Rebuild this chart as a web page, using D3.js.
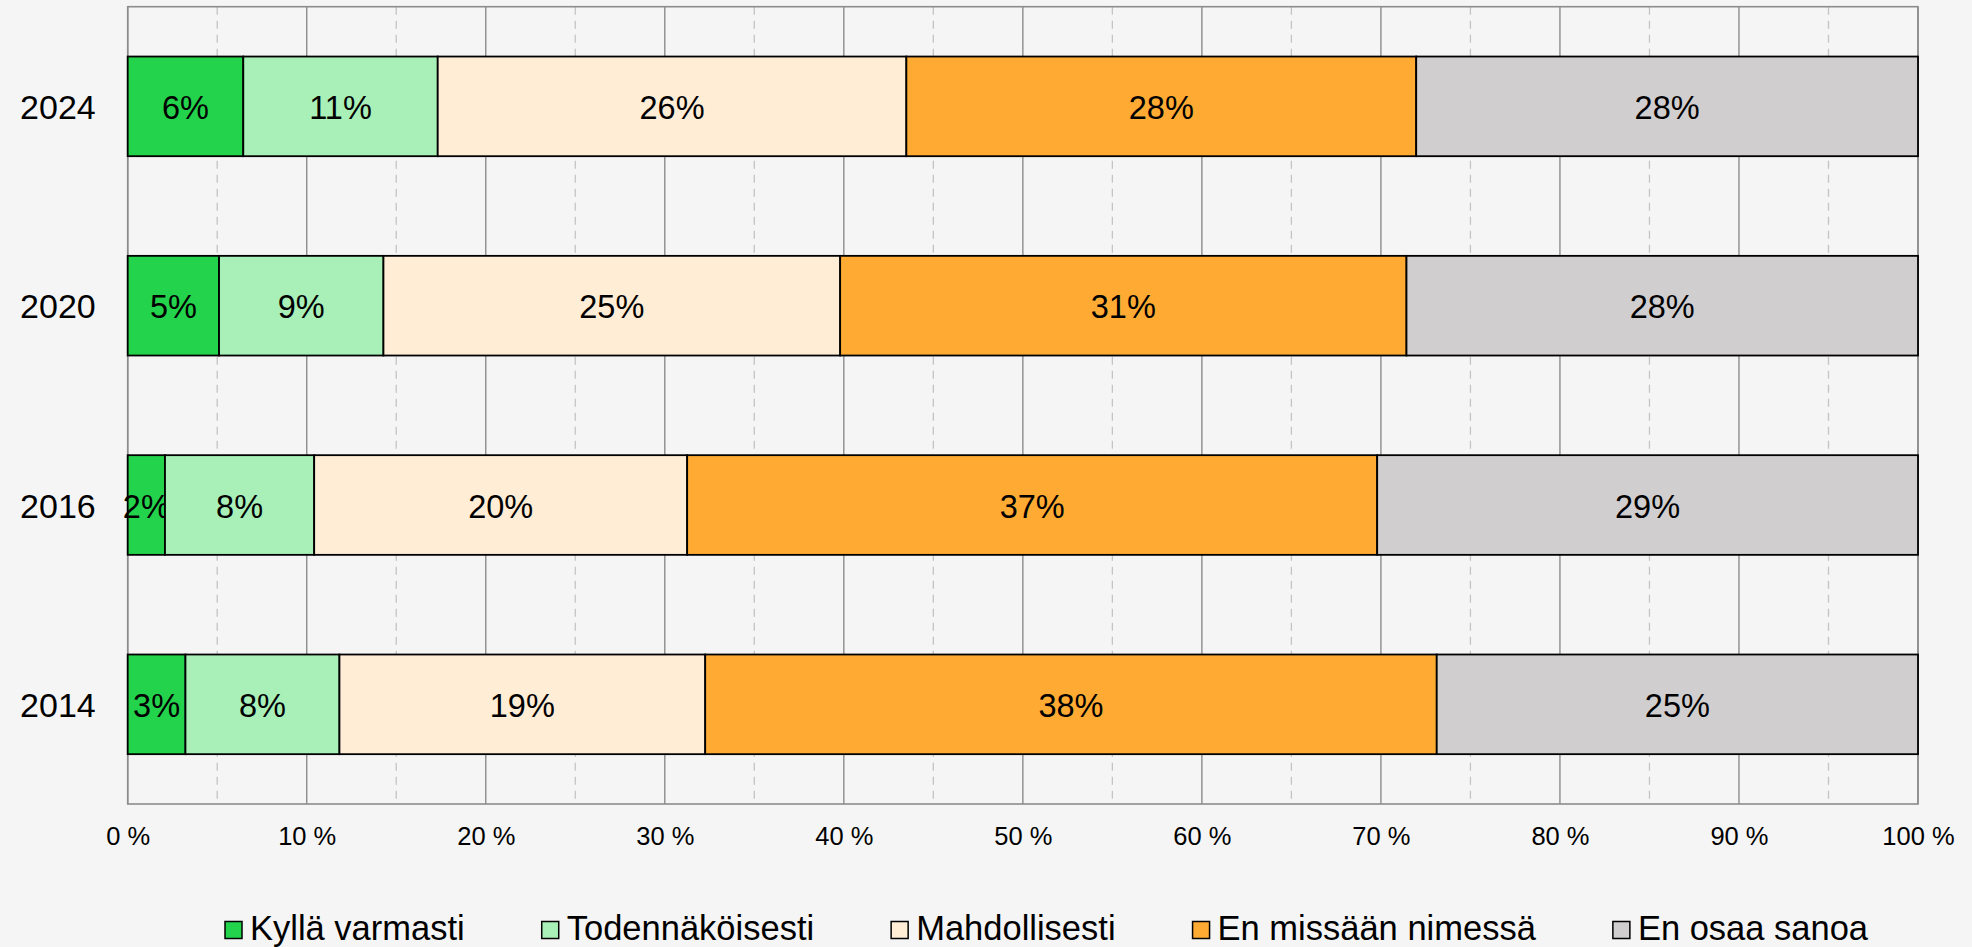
<!DOCTYPE html>
<html>
<head>
<meta charset="utf-8">
<style>
body { margin:0; background:#f5f5f5; }
svg { display:block; font-family:"Liberation Sans", Arial, sans-serif; }
</style>
</head>
<body>
<div id="chart"></div>
<script src="https://d3js.org/d3.v7.min.js"></script>
<script>

// data, raw percentages per year (chart normalises each row to 100 %)
var years = ["2024", "2020", "2016", "2014"];
var series = ["Kyllä varmasti", "Todennäköisesti", "Mahdollisesti", "En missään nimessä", "En osaa sanoa"];
var colors = ["#24d34c", "#a9f0b8", "#ffedd5", "#ffab33", "#d0cecf"];
var kyllaVarmasti   = [6.45, 5, 2, 3];
var todennakoisesti = [10.85, 9, 8, 8];
var mahdollisesti   = [26.15, 25, 20, 19];
var enMissaan       = [28.45, 31, 37, 38];
var enOsaa          = [28, 28, 29, 25];
var majorTicks = [0, 0.1, 0.2, 0.3, 0.4, 0.5, 0.6, 0.7, 0.8, 0.9, 1];
var minorTicks = [0.05, 0.15, 0.25, 0.35, 0.45, 0.55, 0.65, 0.75, 0.85, 0.95];

var W = 1972, H = 947;
var plotL = 127.7, plotR = 1918, plotT = 6.7, plotB = 804;

var cols = [kyllaVarmasti, todennakoisesti, mahdollisesti, enMissaan, enOsaa];
var rows = years.map(function(yr, i) {
  var r = { year: yr };
  series.forEach(function(s, j) { r[s] = cols[j][i]; });
  return r;
});

var stacked = d3.stack().keys(series).offset(d3.stackOffsetExpand)(rows);

var svg = d3.select("#chart").append("svg")
  .attr("width", W)
  .attr("height", H);

svg.append("rect").attr("width", W).attr("height", H).attr("fill", "#f5f5f5");

var x = d3.scaleLinear().domain([0, 1]).range([plotL, plotR]);
var y = d3.scaleBand().domain(years).range([plotT, plotB]).paddingInner(0.5).paddingOuter(0.25);

// minor dashed grid
svg.append("g").selectAll("line").data(minorTicks).enter().append("line")
  .attr("x1", function(d) { return x(d); })
  .attr("x2", function(d) { return x(d); })
  .attr("y1", plotT).attr("y2", plotB)
  .style("stroke", "#c4c4c4")
  .style("stroke-width", 1.3)
  .style("stroke-dasharray", "8,6");

// major grid
svg.append("g").selectAll("line").data(majorTicks).enter().append("line")
  .attr("x1", function(d) { return x(d); })
  .attr("x2", function(d) { return x(d); })
  .attr("y1", plotT).attr("y2", plotB)
  .style("stroke", "#8c8c8c")
  .style("stroke-width", 1.4);

// plot frame
svg.append("rect")
  .attr("x", plotL).attr("y", plotT)
  .attr("width", plotR - plotL).attr("height", plotB - plotT)
  .style("fill", "none")
  .style("stroke", "#8c8c8c")
  .style("stroke-width", 1.6);

// bars
var groups = svg.append("g").selectAll("g").data(stacked).enter().append("g")
  .attr("fill", function(d, i) { return colors[i]; });

groups.selectAll("rect").data(function(d) { return d; }).enter().append("rect")
  .attr("x", function(d) { return x(d[0]); })
  .attr("y", function(d) { return y(d.data.year); })
  .attr("width", function(d) { return x(d[1]) - x(d[0]); })
  .attr("height", y.bandwidth())
  .style("stroke", "#000")
  .style("stroke-width", 1.8);

// data labels
groups.each(function(s) {
  d3.select(this).selectAll("text").data(s).enter().append("text")
    .text(function(d) { return Math.round(d.data[s.key]) + "%"; })
    .attr("x", function(d) { return (x(d[0]) + x(d[1])) / 2; })
    .attr("y", function(d) { return y(d.data.year) + y.bandwidth() / 2; })
    .attr("dy", "0.39em")
    .style("fill", "#000")
    .style("font-size", "32.5px")
    .style("text-anchor", "middle");
});

// x axis labels
var xAxis = svg.append("g")
  .attr("transform", "translate(0," + plotB + ")")
  .call(d3.axisBottom(x).tickValues(majorTicks).tickSize(0).tickPadding(23)
    .tickFormat(function(d) { return Math.round(d * 100) + " %"; }));
xAxis.select(".domain").remove();
xAxis.selectAll("text").style("font-size", "25.5px").style("fill", "#000")
  .style("font-family", "\"Liberation Sans\", Arial, sans-serif");

// y axis labels
var yAxis = svg.append("g")
  .attr("transform", "translate(" + plotL + ",0)")
  .call(d3.axisLeft(y).tickSize(0).tickPadding(32));
yAxis.select(".domain").remove();
yAxis.selectAll("text").style("font-size", "34px").style("fill", "#000")
  .attr("dy", "0.37em")
  .style("font-family", "\"Liberation Sans\", Arial, sans-serif");

// legend
var legend = svg.append("g");
var lx = 225;
series.forEach(function(s, i) {
  legend.append("rect")
    .attr("x", lx).attr("y", 921.5)
    .attr("width", 17).attr("height", 17)
    .style("fill", colors[i])
    .style("stroke", "#000")
    .style("stroke-width", 1.5);
  var t = legend.append("text")
    .text(s)
    .attr("x", lx + 25)
    .attr("y", 940)
    .style("font-size", "34.5px")
    .style("fill", "#000");
  lx += 25 + t.node().getComputedTextLength() + 77;
});

</script>
</body>
</html>
